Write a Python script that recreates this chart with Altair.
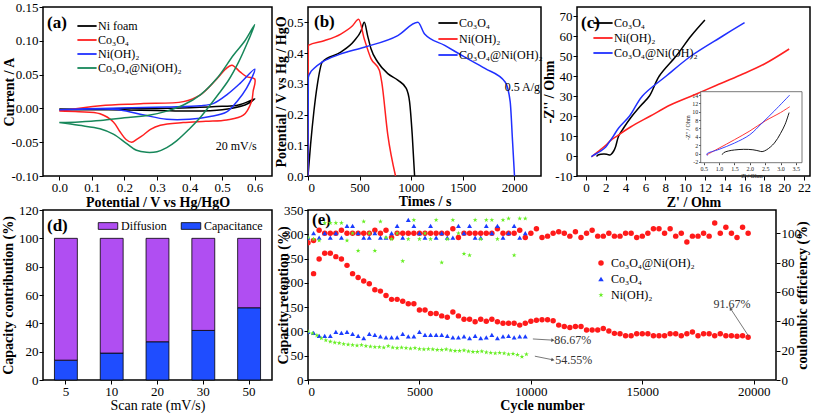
import altair as alt
import pandas as pd

FONT = "Liberation Serif"
STAR = ("M0,-1L0.2245,-0.309L0.951,-0.309L0.363,0.118L0.588,0.809L0,0.382"
        "L-0.588,0.809L-0.363,0.118L-0.951,-0.309L-0.2245,-0.309Z")

# ---------------- (a) CV curves, 20 mV/s ----------------
a_names = ["Ni foam", "Co₃O₄", "Ni(OH)₂", "Co₃O₄@Ni(OH)₂"]
a_colors = ["#000000", "#ff2020", "#2030ff", "#17875a"]
nifoam_v = [0, 0.1, 0.2, 0.3, 0.4, 0.5, 0.55, 0.6, 0.57, 0.5, 0.4, 0.3, 0.15, 0]
nifoam_i = [-0.001, -0.001, 0.0, 0.0, 0.001, 0.003, 0.005, 0.014, 0.005, -0.002, -0.004, -0.003, -0.002, -0.002]
co_v = [0, 0.126, 0.25, 0.381, 0.433, 0.484, 0.51, 0.53, 0.555, 0.575, 0.6, 0.595, 0.59, 0.565,
        0.514, 0.45, 0.38, 0.31, 0.28, 0.259, 0.24, 0.222, 0.205, 0.187, 0.166, 0.125, 0.06, 0]
co_i = [-0.004, 0.004, 0.007, 0.01, 0.02, 0.044, 0.058, 0.064, 0.054, 0.047, 0.0435, 0.025, 0.01, -0.01,
        -0.017, -0.019, -0.021, -0.025, -0.031, -0.039, -0.045, -0.05, -0.046, -0.035, -0.02, -0.008, -0.005, -0.004]
ni_v = [0, 0.126, 0.33, 0.433, 0.474, 0.514, 0.555, 0.6, 0.575, 0.545, 0.514, 0.463, 0.4, 0.33, 0.26, 0.187, 0.126, 0]
ni_i = [-0.002, 0.0, 0.002, 0.004, 0.0075, 0.02, 0.037, 0.058, 0.03, 0.01, -0.005, -0.012, -0.016, -0.016,
        -0.0098, -0.0024, -0.001, -0.002]
comp_v = [0, 0.06, 0.126, 0.2, 0.279, 0.33, 0.381, 0.433, 0.484, 0.535, 0.57, 0.6,
          0.58, 0.55, 0.52, 0.49, 0.46, 0.43, 0.4, 0.36, 0.33, 0.3, 0.268, 0.237, 0.207, 0.166, 0.125, 0.06, 0]
comp_i = [-0.021, -0.02, -0.018, -0.014, -0.0098, -0.004, 0.005, 0.02, 0.0445, 0.079, 0.1, 0.124,
          0.1, 0.068, 0.042, 0.022, 0.003, -0.015, -0.03, -0.048, -0.058, -0.064, -0.065, -0.062, -0.052,
          -0.038, -0.03, -0.025, -0.021]

# ---------------- (b) GCD at 0.5 A/g ----------------
b_names = ["Co₃O₄", "Ni(OH)₂", "Co₃O₄@Ni(OH)₂"]
b_colors = ["#000000", "#ff2020", "#2030ff"]
bco_t = [0, 25, 57, 90, 139, 318, 449, 514, 546, 578, 611, 676, 774, 871, 953, 985, 1011, 1034]
bco_u = [0, 0.102, 0.21, 0.296, 0.371, 0.403, 0.44, 0.472, 0.5, 0.457, 0.414, 0.371, 0.333, 0.312, 0.285, 0.242, 0.134, 0]
bni_t = [0, 3, 156, 318, 432, 491, 546, 611, 692, 715, 774, 849]
bni_u = [0, 0.425, 0.44, 0.462, 0.489, 0.51, 0.446, 0.382, 0.344, 0.306, 0.134, 0]
bcp_t = [0, 3, 20, 57, 139, 300, 546, 871, 1066, 1131, 1326, 1521, 1716, 1912, 1961, 1984, 2003]
bcp_u = [0, 0.32, 0.335, 0.35, 0.371, 0.395, 0.419, 0.457, 0.5, 0.462, 0.425, 0.387, 0.35, 0.306, 0.242, 0.113, 0]

# ---------------- (c) Nyquist plots ----------------
c_names = ["Co₃O₄", "Ni(OH)₂", "Co₃O₄@Ni(OH)₂"]
c_colors = ["#000000", "#ff2020", "#2030ff"]
cco_re = [1.1, 1.15, 1.3, 1.5, 1.8, 2.1, 2.3, 2.4, 2.55, 2.8, 3.0, 3.3, 3.8, 4.5, 5.5, 6.4, 7.4, 9.1, 10.6, 12.0]
cco_im = [-0.3, 0.2, 0.6, 0.85, 1.0, 0.9, 0.6, 0.45, 0.9, 2.5, 4.8, 10, 14, 19, 25, 30, 40, 50, 60, 68]
cni_re = [0.6, 1.0, 1.5, 2.0, 2.5, 3.2, 4.5, 6.5, 8.5, 10.9, 13.0, 15.6, 18.0, 20.5]
cni_im = [-0.3, 1.3, 3.3, 5.4, 7.8, 10.2, 14.5, 20, 25.5, 30.5, 35, 40.5, 46, 53.5]
ccp_re = [0.62, 0.6, 1.0, 1.5, 2.0, 2.4, 2.8, 3.3, 4.4, 5.7, 8.1, 10.6, 13.8, 16.0]
ccp_im = [-0.5, -0.1, 1.0, 2.5, 4.5, 7.3, 10.2, 14, 20, 30, 40, 50, 60, 66.7]
# inset (high-frequency region)
ico_re = [1.1, 1.15, 1.3, 1.5, 1.8, 2.1, 2.3, 2.4, 2.55, 2.8, 3.0, 3.15, 3.28]
ico_im = [-0.3, 0.2, 0.6, 0.85, 1.0, 0.9, 0.6, 0.45, 0.9, 2.5, 4.8, 7.0, 9.8]
ini_re = [0.6, 1.0, 1.5, 2.0, 2.5, 3.0, 3.3]
ini_im = [-0.3, 1.3, 3.3, 5.4, 7.8, 9.8, 11.2]
icp_re = [0.62, 0.6, 1.0, 1.5, 2.0, 2.4, 2.8, 3.3]
icp_im = [-0.5, -0.1, 1.0, 2.5, 4.5, 7.3, 10.2, 14.0]

# ---------------- (d) capacity contribution ----------------
d_rates = ["5", "10", "20", "30", "50"]
d_capacitance = [14, 19, 27, 35, 51]
d_names = ["Diffusion", "Capacitance"]
d_colors = ["#b04ef2", "#1f4dff"]

# ---------------- (e) cycling ----------------
e_names = ["Co₃O₄@Ni(OH)₂", "Co₃O₄", "Ni(OH)₂"]
e_colors = ["#ff1a1a", "#1a3cff", "#66ee22"]
red_ret_c = [250, 500, 750, 1000, 1250, 1500, 1750, 2000, 2250, 2500, 2750, 3000, 3250, 3500, 3750,
             4000, 4250, 4500, 4750, 5000, 5250, 5500, 5750, 6000, 6250, 6500, 6750, 7000, 7250, 7500,
             7750, 8000, 8250, 8500, 8750, 9000, 9250, 9500, 9750, 10000, 10250, 10500, 10750, 11000,
             11250, 11500, 11750, 12000, 12250, 12500, 12750, 13000, 13250, 13500, 13750, 14000, 14250,
             14500, 14750, 15000, 15250, 15500, 15750, 16000, 16250, 16500, 16750, 17000, 17250, 17500,
             17750, 18000, 18250, 18500, 18750, 19000, 19250, 19500, 19750]
red_ret_v = [219, 249, 261, 261, 254, 249, 236, 219, 211, 204, 198, 186, 183, 174, 166,
             166, 162, 157, 157, 144, 144, 137, 137, 132, 129, 140, 132, 125, 125, 120,
             125, 121, 125, 120, 117, 117, 117, 113, 117, 121, 123, 124, 124, 122,
             113, 110, 108, 110, 110, 103, 103, 103, 106, 101, 96, 95, 91,
             91, 95, 95, 95, 91, 91, 91, 95, 95, 91, 95, 99, 91,
             95, 95, 91, 95, 91, 91, 90, 91, 88]
blue_ret_c = [0, 250, 500, 750, 1000, 1250, 1500, 1750, 2000, 2250, 2500, 2750, 3000, 3250, 3500,
              3750, 4000, 4250, 4500, 4750, 5000, 5250, 5500, 5750, 6000, 6250, 6500, 6750, 7000,
              7250, 7500, 7750, 8000, 8250, 8500, 8750, 9000, 9250, 9500, 9750]
blue_ret_v = [99, 97, 91, 91, 91, 99, 97, 99, 95, 91, 86, 95, 93, 90, 88, 88, 88, 95, 90, 90,
              99, 93, 93, 93, 93, 91, 88, 88, 90, 86, 91, 86, 88, 93, 86, 90, 91, 88, 90, 90]
green_ret_c = [0, 200, 400, 600, 800, 1000, 1200, 1400, 1600, 1800, 2000, 2200, 2400, 2600, 2800,
               3000, 3200, 3400, 3600, 3800, 4000, 4200, 4400, 4600, 4800, 5000, 5200, 5400, 5600,
               5800, 6000, 6200, 6400, 6600, 6800, 7000, 7200, 7400, 7600, 7800, 8000, 8200, 8400,
               8600, 8800, 9000, 9200, 9400, 9600, 9800]
green_ret_v = [100, 96, 92, 86, 82, 79, 77, 76, 74, 73, 72, 71, 72, 70, 69, 68, 68, 67, 70, 67,
               66, 67, 66, 65, 66, 64, 63, 64, 63, 62, 62, 63, 61, 60, 60, 61, 59, 58, 58, 59,
               57, 56, 55, 56, 55, 53, 54, 52, 48, 53]
red_ce_c = [0] + red_ret_c
red_ce_v = [93.5, 95, 102, 100, 100, 100, 102, 100, 100, 100, 100, 100, 102, 100, 102, 97, 100, 100,
            100, 100, 100, 100, 100, 100, 100, 100, 103, 97, 100, 100, 100, 100, 100, 100, 103, 100,
            100, 100, 102, 97,
            100, 103, 97, 98, 100, 101, 100, 98, 101, 97, 100, 102, 98, 98, 100, 98, 98, 100, 100, 97,
            98, 100, 103, 103, 100, 103, 98, 100, 94, 98, 98, 100, 98, 107, 100, 104, 100, 97, 104, 100]
blue_ce_c = blue_ret_c
blue_ce_v = [97, 100, 97, 100, 97, 100, 97, 105, 105, 100, 97, 97, 100, 97, 97, 100, 105, 97, 109, 105,
             100, 97, 105, 97, 100, 97, 97, 105, 100, 105, 97, 97, 105, 100, 105, 97, 100, 105, 97, 100]
green_ce_c = blue_ret_c
green_ce_v = [97, 96, 95, 107, 107, 107, 107, 95, 100, 88, 108, 100, 88, 108, 97, 96, 100, 81, 96, 109,
              96, 100, 96, 109, 80, 96, 109, 100, 86, 85, 109, 96, 109, 109, 96, 109, 110, 85, 110, 110]
e_notes = ["86.67%", "54.55%", "91.67%"]
e_note_c = [11050, 11100, 18200]
e_note_v = [82, 41, 157]

# ---------------- layout sizes ----------------
W_A, W_B, W_C, H_TOP = 229, 233, 233, 169
W_D, W_E, H_BOT = 229, 468, 170


def line_df(names, xs_list, ys_list):
    rows = []
    for n, xs, ys in zip(names, xs_list, ys_list):
        for i, (x, y) in enumerate(zip(xs, ys)):
            rows.append({"s": n, "x": x, "y": y, "i": i})
    return pd.DataFrame(rows)


def neg_label(fmt):
    return (f"datum.value < 0 ? '-' + format(-datum.value, '{fmt}') : "
            f"format(datum.value, '{fmt}')")


AX_BASE = dict(labelFont=FONT, labelFontSize=13, labelColor="black", titleFont=FONT,
               titleFontSize=14, titleFontWeight="bold", titleColor="black", grid=False,
               domain=False, tickColor="black", tickSize=4, tickWidth=1, labelPadding=1,
               titleBaseline="middle")


def axis(**kw):
    d = dict(AX_BASE)
    d.update(kw)
    return alt.Axis(**d)


def line_legend(x, y, row_pad=1):
    return alt.Legend(title=None, orient="none", legendX=x, legendY=y, symbolType="M-1.6,0H1.6",
                      symbolSize=144, symbolStrokeWidth=1.8, labelFont=FONT, labelFontSize=12,
                      labelColor="black", labelOffset=4, rowPadding=row_pad, padding=0)


def panel_label(txt, x, y):
    return alt.Chart(pd.DataFrame({"t": [txt]})).mark_text(
        font=FONT, fontSize=17, fontWeight="bold", align="left", baseline="middle", color="black"
    ).encode(x=alt.value(x), y=alt.value(y), text="t:N")


# ================= panel (a) =================
a_df = line_df(a_names, [nifoam_v, co_v, ni_v, comp_v], [nifoam_i, co_i, ni_i, comp_i])
XA = alt.X("x:Q", scale=alt.Scale(domain=[-0.05, 0.653], nice=False, zero=False),
           axis=axis(values=[0, 0.1, 0.2, 0.3, 0.4, 0.5, 0.6], format=".1f",
                     title="Potential / V vs Hg/HgO", titleY=26))
YA = alt.Y("y:Q", scale=alt.Scale(domain=[-0.10, 0.15], nice=False, zero=False),
           axis=axis(values=[-0.10, -0.05, 0, 0.05, 0.10, 0.15], labelExpr=neg_label(".2f"),
                     title="Current / A", titleX=-34))
a_lines = alt.Chart(a_df).mark_line(strokeWidth=1.5, clip=True, interpolate="catmull-rom").encode(
    x=XA, y=YA,
    color=alt.Color("s:N", scale=alt.Scale(domain=a_names, range=a_colors),
                    legend=line_legend(37, 12)),
    order="i:Q")
a_note = alt.Chart(pd.DataFrame({"x": [0.543], "y": [-0.056], "t": ["20 mV/s"]})).mark_text(
    font=FONT, fontSize=12, color="black").encode(x=XA, y=YA, text="t:N")
panel_a = alt.layer(a_lines, a_note, panel_label("(a)", 4, 16)).properties(width=W_A, height=H_TOP)

# ================= panel (b) =================
b_df = line_df(b_names, [bco_t, bni_t, bcp_t], [bco_u, bni_u, bcp_u])
XB = alt.X("x:Q", scale=alt.Scale(domain=[0, 2260], nice=False, zero=False),
           axis=axis(values=[0, 500, 1000, 1500, 2000], format="d", title="Times / s", titleY=25))
YB = alt.Y("y:Q", scale=alt.Scale(domain=[0, 0.55], nice=False, zero=False),
           axis=axis(values=[0, 0.1, 0.2, 0.3, 0.4, 0.5], format=".1f",
                     title="Potential / V vs Hg / HgO", titleX=-27))
b_lines = alt.Chart(b_df).mark_line(strokeWidth=1.5, clip=True, interpolate="monotone").encode(
    x=XB, y=YB,
    color=alt.Color("s:N", scale=alt.Scale(domain=b_names, range=b_colors),
                    legend=line_legend(133, 9, 3)),
    order="i:Q")
b_note = alt.Chart(pd.DataFrame({"x": [2080], "y": [0.29], "t": ["0.5 A/g"]})).mark_text(
    font=FONT, fontSize=12, color="black").encode(x=XB, y=YB, text="t:N")
panel_b = alt.layer(b_lines, b_note, panel_label("(b)", 6, 15)).properties(width=W_B, height=H_TOP)

# ================= panel (c) =================
c_df = line_df(c_names, [cco_re, cni_re, ccp_re], [cco_im, cni_im, ccp_im])
ci_df = line_df(c_names, [ico_re, ini_re, icp_re], [ico_im, ini_im, icp_im]).rename(
    columns={"x": "ix", "y": "iy"})
XC = alt.X("x:Q", scale=alt.Scale(domain=[-0.9, 22.6], nice=False, zero=False),
           axis=axis(values=list(range(0, 23, 2)), title="Z' / Ohm", titleY=26))
YC = alt.Y("y:Q", scale=alt.Scale(domain=[-10, 74.5], nice=False, zero=False),
           axis=axis(values=[-10, 0, 10, 20, 30, 40, 50, 60, 70], labelExpr=neg_label("d"),
                     title="-Z'' / Ohm", titleX=-28))
C_COLOR = alt.Color("s:N", scale=alt.Scale(domain=c_names, range=c_colors),
                    legend=line_legend(19, 9, 2))
c_lines = alt.Chart(c_df).mark_line(strokeWidth=1.5, clip=True, interpolate="catmull-rom").encode(
    x=XC, y=YC, color=C_COLOR, order="i:Q")
c_main = alt.layer(c_lines, panel_label("(c)", 4, 16))

IN_L, IN_R, IN_T, IN_B = 123.7, 225.0, 84.7, 155.7
IAX = dict(labelFont=FONT, labelFontSize=6, labelColor="#222", titleFont=FONT, titleFontSize=6,
           titleFontWeight="normal", titleColor="#222", grid=False, domain=False, tickColor="#444",
           tickSize=2, labelPadding=1)
XI = alt.X("ix:Q", scale=alt.Scale(domain=[0.4, 3.7], range=[IN_L, IN_R], nice=False, zero=False),
           axis=alt.Axis(orient="bottom", values=[0.5, 1.0, 1.5, 2.0, 2.5, 3.0, 3.5], format=".1f",
                         offset=-(H_TOP - IN_B), title="Z' / Ohm", titlePadding=1, **IAX))
YI = alt.Y("iy:Q", scale=alt.Scale(domain=[-2.2, 14.8], range=[IN_B, IN_T], nice=False, zero=False),
           axis=alt.Axis(orient="left", values=[-2, 0, 2, 4, 6, 8, 10, 12, 14], labelExpr=neg_label("d"),
                         offset=-IN_L, title="-Z'' / Ohm", titlePadding=1, **IAX))
inset_box = alt.Chart(pd.DataFrame({"ix": [0.4], "ix2": [3.7], "iy": [-2.2], "iy2": [14.8]})).mark_rect(
    fill="white", stroke="#555", strokeWidth=0.8).encode(x=XI, x2="ix2:Q", y=YI, y2="iy2:Q")
inset_lines = alt.Chart(ci_df).mark_line(strokeWidth=0.9, clip=False, interpolate="catmull-rom").encode(
    x=XI, y=YI, color=C_COLOR, order="i:Q")
c_inset = alt.layer(inset_box, inset_lines)
panel_c = alt.layer(c_main, c_inset).resolve_scale(x="independent", y="independent").properties(
    width=W_C, height=H_TOP)

# ================= panel (d) =================
d_rows = []
for r, cap in zip(d_rates, d_capacitance):
    d_rows.append({"rate": r, "comp": "Capacitance", "val": cap, "ord": 0})
    d_rows.append({"rate": r, "comp": "Diffusion", "val": 100 - cap, "ord": 1})
d_df = pd.DataFrame(d_rows)
panel_d = alt.layer(
    alt.Chart(d_df).mark_bar(stroke="black", strokeWidth=0.8).encode(
        x=alt.X("rate:N", sort=d_rates, scale=alt.Scale(paddingInner=0.5, paddingOuter=0.25),
                axis=axis(labelAngle=0, title="Scan rate (mV/s)", titleFontWeight="normal",
                          titleY=25)),
        y=alt.Y("val:Q", stack="zero", scale=alt.Scale(domain=[0, 120], nice=False),
                axis=axis(values=[0, 20, 40, 60, 80, 100, 120], title="Capacity contribution (%)",
                          titleX=-35)),
        color=alt.Color("comp:N", scale=alt.Scale(domain=d_names, range=d_colors),
                        legend=alt.Legend(title=None, orient="none", direction="horizontal",
                                          legendX=57, legendY=8,
                                          symbolType="M-1.3,-0.45H1.3V0.45H-1.3Z", symbolSize=225,
                                          symbolStrokeColor="black", symbolStrokeWidth=0.8,
                                          labelFont=FONT, labelFontSize=12, labelColor="black",
                                          labelOffset=5, columnPadding=12, padding=0)),
        order=alt.Order("ord:Q")),
    panel_label("(d)", 4, 16),
).properties(width=W_D, height=H_BOT)

# ================= panel (e) =================
XE = alt.X("c:Q", scale=alt.Scale(domain=[0, 21000], nice=False, zero=False),
           axis=axis(values=[0, 5000, 10000, 15000, 20000], format="d", title="Cycle number", titleY=25))
YE = alt.Y("v:Q", scale=alt.Scale(domain=[0, 350], nice=False, zero=False),
           axis=axis(values=[0, 50, 100, 150, 200, 250, 300, 350], title="Capacity retention (%)",
                     titleX=-25))
YCE = alt.Y("v:Q", scale=alt.Scale(domain=[0, 115.8], nice=False, zero=False),
            axis=axis(orient="right", values=[0, 20, 40, 60, 80, 100],
                      title="coulombic efficiency (%)", titleX=26, titleAngle=270))
E_LEG = alt.Legend(title=None, orient="none", legendX=287, legendY=47, labelFont=FONT,
                   labelFontSize=12, labelColor="black", symbolSize=30, rowPadding=4,
                   labelOffset=4, padding=0)
E_COLOR = alt.Color("s:N", scale=alt.Scale(domain=e_names, range=e_colors), legend=E_LEG)
E_SHAPE = alt.Shape("s:N", scale=alt.Scale(domain=e_names, range=["circle", "triangle-up", STAR]),
                    legend=E_LEG)


def pts(name, cs, vs, size, y_enc):
    df = pd.DataFrame({"s": name, "c": cs, "v": vs})
    return alt.Chart(df).mark_point(filled=True, size=size, opacity=1, clip=True, strokeWidth=0).encode(
        x=XE, y=y_enc, color=E_COLOR, shape=E_SHAPE)


arrows_df = pd.DataFrame({"c": [10090, 10180, 19790], "v": [84.5, 49, 89],
                          "c2": [10990, 10990, 18960], "v2": [82, 41.5, 147]})
heads_df = pd.DataFrame({"c": [10990, 10990, 18960], "v": [82, 41.5, 147], "ang": [3.7, 11.6, 237.3]})
notes_df = pd.DataFrame({"c": e_note_c, "v": e_note_v, "t": e_notes})

e_arrows = alt.Chart(arrows_df).mark_rule(color="#555", strokeWidth=0.8).encode(
    x=XE, x2="c2:Q", y=YE, y2="v2:Q")
e_heads = alt.Chart(heads_df).mark_point(shape="triangle-right", filled=True, size=14, color="#555",
                                         opacity=1).encode(
    x=XE, y=YE, angle=alt.Angle("ang:Q", scale=None))
e_notes_t = alt.Chart(notes_df).mark_text(font=FONT, fontSize=12, color="#333", align="left",
                                          baseline="middle").encode(x=XE, y=YE, text="t:N")

e_left = alt.layer(
    pts(e_names[0], red_ret_c, red_ret_v, 30, YE),
    pts(e_names[1], blue_ret_c, blue_ret_v, 24, YE),
    pts(e_names[2], green_ret_c, green_ret_v, 26, YE),
    e_arrows, e_heads, e_notes_t,
    panel_label("(e)", 4, 10),
)
e_right = alt.layer(
    pts(e_names[0], red_ce_c, red_ce_v, 30, YCE),
    pts(e_names[1], blue_ce_c, blue_ce_v, 24, YCE),
    pts(e_names[2], green_ce_c, green_ce_v, 26, YCE),
)
panel_e = alt.layer(e_left, e_right).resolve_scale(y="independent").properties(width=W_E, height=H_BOT)

# ================= assemble =================
top = alt.hconcat(panel_a, panel_b, panel_c, spacing=36, bounds="flush").resolve_scale(color="independent")
bottom = alt.hconcat(panel_d, panel_e, spacing=36, bounds="flush").resolve_scale(
    color="independent", shape="independent")
chart = alt.vconcat(top, bottom, spacing=-9).resolve_scale(
    color="independent", shape="independent").properties(
    padding={"left": 0, "top": 0, "right": 0, "bottom": 0}, background="white"
).configure_view(stroke="black", strokeWidth=1.5)

chart.save("out.html", embed_options={"renderer": "svg", "actions": False})
